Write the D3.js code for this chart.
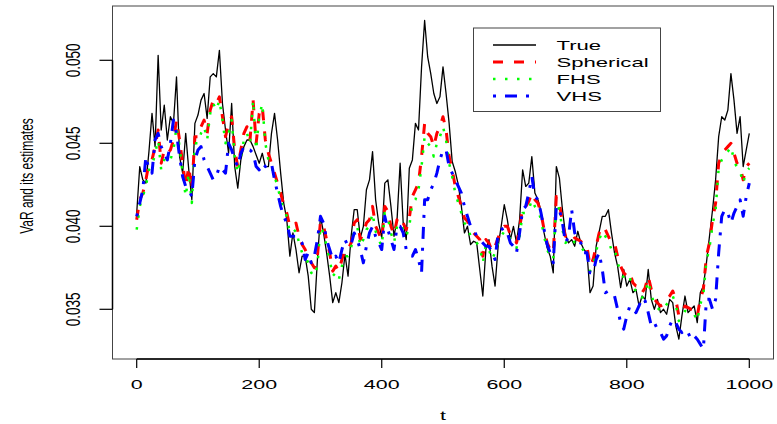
<!DOCTYPE html>
<html>
<head>
<meta charset="utf-8">
<script src="https://cdn.jsdelivr.net/npm/d3@7"></script>
<style>
  body { margin: 0; background: #fff; }
  text { font-family: "Liberation Sans", Arial, sans-serif; fill: #000; }
</style>
</head>
<body>
<div id="chart"></div>
<script>
// values, in units of 1e-3, one every 5 steps (t = 0, 5, ..., 1000)
var trueVals = [
  40.8, 43.6, 42.8, 42.6, 44.5, 46.8, 44.8, 50.3, 45.8, 47.3,
  45.2, 46.6, 46.2, 49.0, 44.2, 43.2, 45.6, 43.4, 41.6, 46.2,
  46.7, 47.6, 48.0, 46.5, 49.0, 49.2, 49.0, 50.6, 47.4, 45.8,
  44.4, 47.4, 43.6, 42.3, 44.0, 44.8, 45.2, 45.2, 44.8, 44.3,
  43.8, 44.4, 43.6, 43.6, 45.6, 46.8, 45.2, 43.2, 41.4, 40.4,
  38.2, 39.6, 38.6, 37.2, 38.2, 38.2, 37.0, 35.0, 34.8, 38.0,
  40.6, 39.6, 38.4, 37.0, 35.4, 36.0, 35.4, 36.6, 38.3, 37.0,
  39.4, 41.0, 41.0, 39.3, 40.0, 42.2, 42.8, 44.5, 41.6, 40.2,
  39.3, 42.6, 42.8, 41.2, 39.4, 40.4, 43.8, 40.2, 39.2, 43.5,
  44.0, 46.2, 45.8, 49.6, 52.4, 50.2, 49.2, 48.0, 47.4, 47.8,
  49.6, 48.0, 46.2, 43.9, 43.3, 42.5, 41.2, 39.6, 40.0, 38.9,
  39.1, 39.0, 37.4, 35.8, 38.6, 39.2, 37.6, 36.4, 38.8, 40.0,
  41.3, 40.4, 39.2, 40.0, 39.0, 40.4, 43.4, 42.4, 42.6, 44.2,
  42.0, 41.6, 40.9, 39.6, 38.7, 38.2, 37.2, 43.6, 42.9, 41.0,
  39.5, 39.0, 39.2, 38.8, 39.7, 39.0, 38.6, 38.4, 36.0, 36.4,
  38.8, 39.7, 40.6, 40.6, 41.0, 39.6, 38.4, 37.6, 36.3, 37.4,
  36.4, 36.8, 36.0, 36.2, 35.2, 35.8, 35.6, 37.4, 35.6, 35.0,
  35.6, 34.8, 35.0, 34.7, 35.6, 35.4, 34.0, 33.2, 34.6, 35.8,
  34.8, 35.0, 35.2, 34.2, 36.0, 36.4, 37.8, 39.4, 41.0, 42.8,
  45.4, 46.6, 46.4, 47.0, 49.2, 47.6, 45.6, 46.6, 43.6, 44.6,
  45.6
];

var sphericalVals = [
  40.4, 41.6, 42.0, 42.8, 43.8, 44.0, 44.8, 45.8, 43.8, 44.6, 44.4, 44.6, 45.2, 46.4, 45.2, 43.8, 42.4, 43.6, 42.2, 45.4,
  45.4, 46.0, 46.4, 45.6, 47.0, 47.6, 47.4, 47.8, 46.6, 45.4, 46.2, 46.6, 44.6, 43.6, 44.6, 45.6, 46.0, 45.2, 47.6, 45.0,
  46.8, 47.2, 45.2, 44.4, 43.8, 43.2, 42.6, 42.0, 41.3, 40.8, 40.0, 40.0, 40.2, 39.4, 38.9, 38.6, 38.2, 37.8, 37.5, 38.2,
  40.3, 40.0, 39.2, 38.4, 37.3, 37.6, 37.3, 38.0, 38.6, 38.6, 39.0, 40.2, 40.4, 39.2, 39.6, 40.2, 40.4, 41.2, 40.0, 39.6,
  39.2, 41.2, 40.9, 40.0, 39.5, 40.4, 40.6, 40.2, 39.8, 40.5, 41.8, 42.2, 42.6, 44.2, 46.2, 45.6, 45.4, 44.8, 45.6, 46.0,
  46.6, 45.8, 44.2, 43.4, 42.4, 41.8, 41.2, 40.5, 40.3, 39.8, 39.6, 39.4, 39.2, 38.2, 39.2, 39.0, 38.5, 38.8, 39.3, 39.8,
  40.0, 40.0, 39.5, 39.4, 39.0, 39.8, 41.2, 41.2, 41.5, 42.0, 41.6, 41.4, 40.8, 39.8, 39.0, 38.6, 38.4, 41.8, 41.4, 40.2,
  39.4, 39.6, 39.6, 39.3, 39.2, 39.1, 38.8, 38.8, 37.6, 38.0, 38.8, 39.6, 40.0, 39.8, 39.4, 39.0, 39.0, 38.2, 37.6, 37.2,
  37.0, 37.2, 36.6, 36.4, 36.4, 36.0, 36.3, 37.0, 36.2, 35.6, 35.4, 35.2, 35.3, 35.6, 35.8, 36.1, 35.6, 34.6, 34.8, 35.2,
  35.1, 35.0, 35.0, 34.6, 35.6, 36.2, 38.2, 39.0, 40.4, 41.4, 43.8, 44.3, 44.6, 44.8, 45.0, 44.4, 43.8, 43.6, 42.8, 43.6,
  43.8
];

var fhsVals = [
  39.8, 41.2, 41.8, 42.4, 43.4, 43.6, 44.4, 45.2, 43.4, 44.0, 43.8, 44.0, 44.6, 46.0, 44.8, 43.2, 41.8, 43.2, 41.4, 45.0,
  45.0, 45.6, 46.0, 45.2, 46.8, 47.4, 47.0, 47.6, 46.4, 45.0, 45.6, 46.4, 44.2, 43.2, 44.2, 45.2, 45.6, 45.0, 47.6, 44.6,
  46.6, 47.4, 45.0, 44.0, 43.6, 43.0, 42.4, 41.6, 41.0, 40.6, 39.6, 39.6, 39.8, 39.0, 38.4, 38.2, 37.8, 37.2, 37.0, 37.6,
  40.0, 39.6, 38.8, 38.0, 37.0, 37.2, 36.8, 37.6, 38.2, 38.2, 38.7, 39.8, 40.0, 38.8, 39.2, 39.8, 40.0, 40.8, 39.7, 39.2,
  38.8, 40.8, 40.5, 39.6, 39.0, 40.0, 40.2, 39.8, 39.4, 40.0, 41.4, 41.6, 42.2, 43.6, 45.4, 45.0, 44.8, 44.2, 45.0, 45.4,
  46.0, 45.2, 43.8, 43.0, 42.0, 41.4, 40.8, 40.2, 40.0, 39.4, 39.2, 39.0, 38.8, 37.8, 38.9, 38.6, 38.0, 38.4, 39.0, 39.4,
  39.7, 39.6, 39.2, 39.0, 38.7, 39.4, 40.8, 40.8, 41.0, 41.6, 41.2, 41.0, 40.4, 39.4, 38.6, 38.2, 38.0, 41.4, 41.0, 39.8,
  39.0, 39.2, 39.3, 39.0, 38.9, 38.8, 38.5, 38.4, 37.3, 37.6, 38.5, 39.2, 39.7, 39.4, 39.1, 38.6, 38.7, 37.8, 37.3, 36.9,
  36.7, 36.9, 36.3, 36.1, 36.1, 35.7, 36.0, 36.7, 35.9, 35.3, 35.1, 34.9, 35.0, 35.3, 35.5, 35.8, 35.3, 34.3, 34.5, 34.9,
  34.8, 34.7, 34.7, 34.3, 35.3, 35.9, 37.9, 38.7, 40.1, 41.0, 43.5, 44.0, 44.3, 44.5, 44.8, 44.0, 43.5, 43.3, 42.6, 43.3,
  43.5
];

var vhsVals = [
  40.6, 41.4, 42.2, 44.2, 43.4, 43.2, 45.2, 45.6, 44.8, 44.4, 44.0, 45.0, 46.4, 45.6, 44.2, 43.0, 42.4, 42.2, 41.8, 44.0,
  44.6, 44.8, 44.0, 43.6, 43.2, 42.8, 43.0, 43.6, 43.4, 43.2, 45.0, 44.6, 44.0, 43.6, 44.4, 44.8, 44.6, 44.6, 44.4, 43.6,
  43.4, 43.8, 43.6, 43.8, 43.8, 42.8, 42.0, 41.2, 40.6, 40.2, 39.4, 39.4, 39.4, 39.2, 39.0, 38.0, 38.4, 37.8, 38.2, 39.2,
  40.6, 40.2, 39.2, 38.6, 38.0, 38.2, 37.8, 38.6, 39.2, 38.8, 38.9, 39.6, 39.2, 38.6, 37.8, 38.8, 39.6, 40.0, 39.4, 39.0,
  38.6, 40.6, 39.8, 39.2, 38.6, 40.0, 40.0, 39.6, 38.6, 38.4, 38.2, 38.6, 38.0, 37.2, 41.6, 41.6, 42.2, 42.6, 43.2, 44.0,
  44.6, 44.6, 43.6, 43.2, 42.8, 42.4, 42.0, 41.2, 40.6, 40.0, 39.8, 39.4, 39.2, 39.0, 38.8, 38.8, 38.4, 38.0, 39.6, 39.8,
  39.9, 39.6, 39.0, 38.8, 38.4, 39.6, 41.0, 41.2, 42.0, 43.0, 41.8, 41.6, 40.8, 39.8, 38.9, 38.4, 37.8, 41.2, 41.0, 40.2,
  39.0, 39.4, 41.0, 39.6, 39.2, 39.0, 38.4, 38.4, 37.2, 37.2, 38.0, 38.4, 37.4, 36.0, 36.1, 36.0, 35.8, 35.0, 34.2, 33.8,
  34.6, 35.2, 35.0, 34.8, 35.2, 35.7, 35.5, 34.8, 34.0, 34.2, 33.8, 33.6, 33.2, 33.4, 34.0, 34.4, 34.2, 33.8, 33.6, 33.8,
  33.6, 33.2, 33.4, 33.2, 32.9, 32.6, 35.6, 35.6, 35.0, 35.6, 38.4, 40.6, 41.0, 40.8, 40.2, 40.8, 41.2, 41.6, 40.6, 41.8,
  42.6
];

var seriesNames = ["True", "Spherical", "FHS", "VHS"];
var xTicks = [0, 200, 400, 600, 800, 1000];
var yTicks = [0.035, 0.040, 0.045, 0.050];

var width = 777;
var height = 424;

// stretch used for text (the original figure is widened)
var sx = 1.65;

var x = d3.scaleLinear().domain([-39.5, 1039.5]).range([112.5, 773.5]);
var y = d3.scaleLinear().domain([0.035, 0.050]).range([309.3, 60.3]);
var boxTop = 6, boxBottom = 359;

var svg = d3.select("#chart")
  .append("svg")
  .attr("width", width)
  .attr("height", height);

svg.append("clipPath")
  .attr("id", "clip")
  .append("rect")
  .attr("x", x.range()[0])
  .attr("y", boxTop)
  .attr("width", x.range()[1] - x.range()[0])
  .attr("height", boxBottom - boxTop);

function toPoints(vals) {
  return vals.map(function (v, i) { return [i * 5, v / 1000]; });
}

var line = d3.line()
  .x(function (d) { return x(d[0]); })
  .y(function (d) { return y(d[1]); });

var styles = [
  { name: seriesNames[0], data: toPoints(trueVals), color: "#000000", w: 1.3, dash: null },
  { name: seriesNames[1], data: toPoints(sphericalVals), color: "#ff0000", w: 3, dash: "10,11" },
  { name: seriesNames[2], data: toPoints(fhsVals), color: "#00ff00", w: 2.5, dash: "2.5,9.5" },
  { name: seriesNames[3], data: toPoints(vhsVals), color: "#0000ff", w: 3, dash: "3,9,12,9" }
];

var plot = svg.append("g").attr("clip-path", "url(#clip)");

plot.selectAll(".series")
  .data(styles)
  .enter()
  .append("path")
  .attr("class", "series")
  .attr("d", function (d) { return line(d.data); })
  .attr("fill", "none")
  .attr("stroke", function (d) { return d.color; })
  .attr("stroke-width", function (d) { return d.w; })
  .attr("stroke-dasharray", function (d) { return d.dash; })
  .attr("stroke-linejoin", "round");

// box
svg.append("rect")
  .attr("x", x.range()[0])
  .attr("y", boxTop)
  .attr("width", x.range()[1] - x.range()[0])
  .attr("height", boxBottom - boxTop)
  .attr("fill", "none")
  .attr("stroke", "#444")
  .attr("stroke-width", 1);

// y axis
svg.append("line")
  .attr("x1", x.range()[0]).attr("x2", x.range()[0])
  .attr("y1", y(0.050)).attr("y2", y(0.035))
  .attr("stroke", "#000").attr("stroke-width", 1.5);

svg.selectAll(".ytick")
  .data(yTicks)
  .enter()
  .append("line")
  .attr("x1", x.range()[0] - 13).attr("x2", x.range()[0])
  .attr("y1", function (d) { return y(d); })
  .attr("y2", function (d) { return y(d); })
  .attr("stroke", "#000").attr("stroke-width", 1.2);

svg.selectAll(".ylab")
  .data(yTicks)
  .enter()
  .append("g")
  .attr("transform", function (d) { return "translate(80," + y(d) + ") scale(1.55,1) rotate(-90)"; })
  .append("text")
  .attr("text-anchor", "middle")
  .style("font-size", "13.5px")
  .text(function (d) { return d3.format(".3f")(d); });

// x axis
svg.append("line")
  .attr("x1", x(0)).attr("x2", x(1000))
  .attr("y1", boxBottom).attr("y2", boxBottom)
  .attr("stroke", "#000").attr("stroke-width", 1.5);

svg.selectAll(".xtick")
  .data(xTicks)
  .enter()
  .append("line")
  .attr("x1", function (d) { return x(d); })
  .attr("x2", function (d) { return x(d); })
  .attr("y1", boxBottom).attr("y2", boxBottom + 9)
  .attr("stroke", "#000").attr("stroke-width", 1.2);

svg.selectAll(".xlab")
  .data(xTicks)
  .enter()
  .append("g")
  .attr("transform", function (d) { return "translate(" + x(d) + ",389) scale(" + sx + ",1)"; })
  .append("text")
  .attr("text-anchor", "middle")
  .style("font-size", "13px")
  .text(function (d) { return d; });

// axis titles
svg.append("g")
  .attr("transform", "translate(" + ((x.range()[0] + x.range()[1]) / 2) + ",420) scale(" + sx + ",1)")
  .append("text")
  .attr("text-anchor", "middle")
  .style("font-size", "13px")
  .text("t");

svg.append("g")
  .attr("transform", "translate(33,176) scale(1.5,1) rotate(-90)")
  .append("text")
  .attr("text-anchor", "middle")
  .style("font-size", "12px")
  .text("VaR and its estimates");

// legend
var legend = svg.append("g");
legend.append("rect")
  .attr("x", 473.5).attr("y", 28)
  .attr("width", 187).attr("height", 83.5)
  .attr("fill", "#fff")
  .attr("stroke", "#444")
  .attr("stroke-width", 1);

var rowY = [45, 62, 79, 96];

legend.selectAll(".lline")
  .data(styles)
  .enter()
  .append("line")
  .attr("x1", 493).attr("x2", 536)
  .attr("y1", function (d, i) { return rowY[i]; })
  .attr("y2", function (d, i) { return rowY[i]; })
  .attr("stroke", function (d) { return d.color; })
  .attr("stroke-width", function (d) { return d.w; })
  .attr("stroke-dasharray", function (d) { return d.dash; });

legend.selectAll(".ltext")
  .data(styles)
  .enter()
  .append("g")
  .attr("transform", function (d, i) { return "translate(556.5," + (rowY[i] + 5) + ") scale(1.7,1)"; })
  .append("text")
  .style("font-size", "13px")
  .text(function (d) { return d.name; });
</script>
</body>
</html>
